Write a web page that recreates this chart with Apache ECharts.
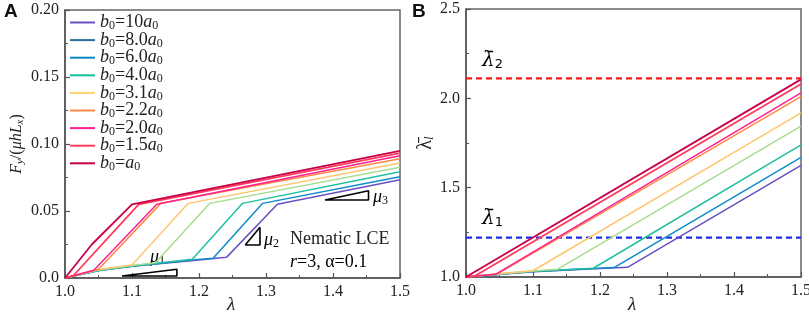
<!DOCTYPE html>
<html><head><meta charset="utf-8">
<script src="https://cdn.jsdelivr.net/npm/echarts@6/dist/echarts.min.js"></script>
<style>html,body{margin:0;padding:0;background:#fff}#c{width:809px;height:314px}</style>
</head><body><div id="c"></div>
<script>
// ---- data ----
const b0Labels = ['10', '8.0', '6.0', '4.0', '3.1', '2.2', '2.0', '1.5', ''];
const plotColors = ['#6a4fc0', '#0d8ccc', '#1fbf9f', '#a9dc8e', '#ffc66d', '#ff8944', '#ff1f8e', '#ff3a5a', '#c8004b'];
const legendColors = ['#6a4fc0', '#2a6e9c', '#0a88c8', '#12c09c', '#ffd070', '#ff8944', '#ff1f8e', '#ff3a5a', '#c8004b'];

// Panel A: F_y/(mu h L_x) vs lambda
const fA_b10 = [[1, 0], [1.05, 0.0055], [1.1, 0.0087], [1.2, 0.0135], [1.241, 0.0154], [1.317, 0.055], [1.5, 0.0733]];
const fA_b8 = [[1, 0], [1.05, 0.0055], [1.1, 0.0088], [1.2, 0.0139], [1.221, 0.0148], [1.295, 0.0557], [1.5, 0.0755]];
const fA_b6 = [[1, 0], [1.05, 0.0056], [1.1, 0.009], [1.19, 0.0140], [1.265, 0.0557], [1.5, 0.0793]];
const fA_b4 = [[1, 0], [1.05, 0.006], [1.1, 0.0093], [1.135, 0.0113], [1.216, 0.0557], [1.5, 0.0826]];
const fA_b31 = [[1, 0], [1.05, 0.0063], [1.1, 0.0097], [1.184, 0.0557], [1.5, 0.0858]];
const fA_b22 = [[1, 0], [1.05, 0.0066], [1.143, 0.0557], [1.5, 0.0890]];
const fA_b20 = [[1, 0], [1.043, 0.0058], [1.137, 0.055], [1.5, 0.0912]];
const fA_b15 = [[1, 0], [1.012, 0.0015], [1.11, 0.055], [1.5, 0.0932]];
const fA_b1 = [[1, 0], [1.04, 0.025], [1.1, 0.055], [1.5, 0.0948]];

// Panel B: lambda_l bar vs lambda
const lB_b10 = [[1, 1], [1.1, 1.03], [1.2, 1.047], [1.241, 1.054], [1.5, 1.625]];
const lB_b8 = [[1, 1], [1.1, 1.031], [1.221, 1.053], [1.5, 1.670]];
const lB_b6 = [[1, 1], [1.1, 1.032], [1.19, 1.049], [1.5, 1.739]];
const lB_b4 = [[1, 1], [1.1, 1.033], [1.137, 1.044], [1.5, 1.845]];
const lB_b31 = [[1, 1], [1.05, 1.02], [1.1, 1.035], [1.5, 1.919]];
const lB_b22 = [[1, 1], [1.047, 1.017], [1.5, 2.009]];
const lB_b20 = [[1, 1], [1.044, 1.015], [1.5, 2.031]];
const lB_b15 = [[1, 1], [1.012, 1.003], [1.5, 2.080]];
const lB_b1 = [[1, 1], [1.5, 2.106]];

const lambdaBar1 = 1.22;
const lambdaBar2 = 2.112;

// slope-triangle annotations (data coords, panel A)
const tri1 = [[1.085, 0.0015], [1.167, 0.0065], [1.167, 0.0015], [1.085, 0.0015]];
const tri2 = [[1.269, 0.0246], [1.291, 0.0378], [1.291, 0.0246], [1.269, 0.0246]];
const tri3 = [[1.388, 0.0582], [1.453, 0.0651], [1.453, 0.0582], [1.388, 0.0582]];

const yTicksA = ['0.0', '0.05', '0.10', '0.15', '0.20'];
const yTicksB = ['1.0', '1.5', '2.0', '2.5'];

const seriesA = [fA_b10, fA_b8, fA_b6, fA_b4, fA_b31, fA_b22, fA_b20, fA_b15, fA_b1];
const seriesB = [lB_b10, lB_b8, lB_b6, lB_b4, lB_b31, lB_b22, lB_b20, lB_b15, lB_b1];

// ---- chart ----
const SERIF = "'Liberation Serif','Times New Roman',serif";
const TXT = '#222';
const chart = echarts.init(document.getElementById('c'), null, {renderer: 'canvas'});

const rich = {
  i: {fontFamily: SERIF, fontStyle: 'italic', fontSize: 18, color: TXT, lineHeight: 18},
  n: {fontFamily: SERIF, fontSize: 18, color: TXT, lineHeight: 18},
  s: {fontFamily: SERIF, fontStyle: 'italic', fontSize: 12, color: TXT, lineHeight: 10, padding: [8, 0, 0, 0]},
  su: {fontFamily: SERIF, fontSize: 12, color: TXT, lineHeight: 10, padding: [8, 0, 0, 0]}
};
const richY = {
  i: {fontFamily: SERIF, fontStyle: 'italic', fontSize: 16, color: TXT, lineHeight: 16},
  n: {fontFamily: SERIF, fontSize: 16, color: TXT, lineHeight: 16},
  s: {fontFamily: SERIF, fontStyle: 'italic', fontSize: 11, color: TXT, lineHeight: 9, padding: [7, 0, 0, 0]}
};
const richB = {
  n: {fontFamily: SERIF, fontSize: 20, color: TXT, lineHeight: 20},
  s: {fontFamily: SERIF, fontStyle: 'italic', fontSize: 13, color: TXT, lineHeight: 12, padding: [8, 0, 0, 0]}
};
const richL = {
  i: {fontFamily: SERIF, fontStyle: 'italic', fontSize: 18, color: TXT, lineHeight: 17},
  n: {fontFamily: SERIF, fontSize: 18, color: TXT, lineHeight: 17},
  su: {fontFamily: SERIF, fontSize: 12, color: TXT, lineHeight: 10, padding: [7, 0, 0, 0]}
};

function legendName(lbl) { return 'b0=' + lbl + 'a0'; }

const axisCommon = {
  axisLine: {show: true, lineStyle: {color: '#555', width: 1.5}},
  axisTick: {show: true, inside: true, length: 5, lineStyle: {color: '#555', width: 1.2}},
  minorTick: {show: true, splitNumber: 2, length: 3, lineStyle: {color: '#555', width: 1}},
  splitLine: {show: false},
  axisLabel: {fontFamily: SERIF, fontSize: 16, color: TXT}
};

const series = [];
seriesA.forEach((d, k) => {
  series.push({
    name: legendName(b0Labels[k]), type: 'line', xAxisIndex: 0, yAxisIndex: 0,
    data: d, symbol: 'none', lineStyle: {color: plotColors[k], width: k >= 7 ? 1.8 : 1.5},
    itemStyle: {color: plotColors[k]}, silent: true, z: 2 + k
  });
});
seriesB.forEach((d, k) => {
  series.push({
    name: 'B' + k, type: 'line', xAxisIndex: 1, yAxisIndex: 1,
    data: d, symbol: 'none', lineStyle: {color: plotColors[k], width: k >= 7 ? 1.8 : 1.5},
    itemStyle: {color: plotColors[k]}, silent: true, z: 2 + k
  });
});
[tri1, tri2, tri3].forEach((d, k) => {
  series.push({name: 'tri' + k, type: 'line', xAxisIndex: 0, yAxisIndex: 0, data: d, symbol: 'none',
    lineStyle: {color: '#000', width: 1.6}, silent: true, z: 20});
});
series.push({
  name: 'ref2', type: 'line', xAxisIndex: 1, yAxisIndex: 1,
  data: [[1, lambdaBar2], [1.5, lambdaBar2]], symbol: 'none',
  lineStyle: {color: '#ff1a1a', width: 2.2, type: [6, 4]}, silent: true, z: 1
});
series.push({
  name: 'ref1', type: 'line', xAxisIndex: 1, yAxisIndex: 1,
  data: [[1, lambdaBar1], [1.5, lambdaBar1]], symbol: 'none',
  lineStyle: {color: '#1f2fe8', width: 2.2, type: [6, 4]}, silent: true, z: 1
});

const option = {
  animation: false,
  backgroundColor: '#fff',
  grid: [
    {left: 65, right: 409, top: 10, bottom: 36, outerBoundsMode: 'none', containLabel: false, show: true, borderColor: '#666', borderWidth: 1.5, backgroundColor: 'transparent'},
    {left: 466, right: 8, top: 9, bottom: 37, outerBoundsMode: 'none', containLabel: false, show: true, borderColor: '#666', borderWidth: 1.5, backgroundColor: 'transparent'}
  ],
  xAxis: [
    Object.assign({}, axisCommon, {gridIndex: 0, type: 'value', min: 1.0, max: 1.5, interval: 0.1,
      axisLabel: Object.assign({}, axisCommon.axisLabel, {margin: 6, formatter: v => v.toFixed(1)})}),
    Object.assign({}, axisCommon, {gridIndex: 1, type: 'value', min: 1.0, max: 1.5, interval: 0.1,
      axisLabel: Object.assign({}, axisCommon.axisLabel, {margin: 6, formatter: v => v.toFixed(1)})})
  ],
  yAxis: [
    Object.assign({}, axisCommon, {gridIndex: 0, type: 'value', min: 0, max: 0.2, interval: 0.05,
      name: '{i|F}{s|y}{n|/(}{i|μhL}{s|x}{n|)}', nameLocation: 'middle', nameGap: 40,
      nameTextStyle: {rich: richY},
      axisLabel: Object.assign({}, axisCommon.axisLabel, {margin: 6, formatter: v => yTicksA[Math.round(v / 0.05)]})}),
    Object.assign({}, axisCommon, {gridIndex: 1, type: 'value', min: 1.0, max: 2.5, interval: 0.5,
      name: '{n|λ̄}{s|l}', nameLocation: 'middle', nameGap: 22,
      nameTextStyle: {rich: richB},
      axisLabel: Object.assign({}, axisCommon.axisLabel, {margin: 6, formatter: v => yTicksB[Math.round((v - 1) / 0.5)]})})
  ],
  legend: {
    show: true, orient: 'vertical', left: 70, top: 13, padding: 0, itemWidth: 25, itemHeight: 2, itemGap: -1.4,
    icon: 'rect',
    data: b0Labels.map((l, k) => ({name: legendName(l), itemStyle: {color: legendColors[k]}})),
    formatter: name => {
      const v = name.slice(3, -2);
      return '{i|b}{su|0}{n|=' + v + '}{i|a}{su|0}';
    },
    textStyle: {rich: richL, padding: [0, 0, 0, 0]},
    selectedMode: false
  },
  graphic: [
    {type: 'text', left: 4, top: 2, style: {text: 'A', font: "bold 19px 'Liberation Sans', Arial, sans-serif", fill: '#111'}},
    {type: 'text', left: 412, top: 2, style: {text: 'B', font: "bold 19px 'Liberation Sans', Arial, sans-serif", fill: '#111'}},
    {type: 'text', left: 227, top: 295, style: {text: 'λ', font: "italic 19px " + SERIF, fill: TXT}},
    {type: 'text', left: 628, top: 295, style: {text: 'λ', font: "italic 19px " + SERIF, fill: TXT}},
    {type: 'text', left: 290, top: 230, style: {text: 'Nematic LCE', font: "18px " + SERIF, fill: TXT}},
    {type: 'text', left: 290, top: 253, style: {text: '{i|r}{n|=3, α=0.1}', rich: rich}},
    {type: 'text', left: 150, top: 247, style: {text: '{i|μ}{su|1}', rich: rich}},
    {type: 'text', left: 264, top: 230, style: {text: '{i|μ}{su|2}', rich: rich}},
    {type: 'text', left: 373, top: 187, style: {text: '{i|μ}{su|3}', rich: rich}},
    {type: 'text', left: 482, top: 50, style: {text: '{a|λ̄}{b|2}', rich: {
      a: {fontFamily: "'DejaVu Serif',serif", fontStyle: 'italic', fontSize: 20, color: '#ff1a1a', lineHeight: 20},
      b: {fontFamily: "'DejaVu Sans',sans-serif", fontSize: 13, color: '#ff1a1a', lineHeight: 12, padding: [8, 0, 0, 0]}}}},
    {type: 'text', left: 482, top: 208, style: {text: '{a|λ̄}{b|1}', rich: {
      a: {fontFamily: "'DejaVu Serif',serif", fontStyle: 'italic', fontSize: 20, color: '#1f2fe8', lineHeight: 20},
      b: {fontFamily: "'DejaVu Sans',sans-serif", fontSize: 13, color: '#1f2fe8', lineHeight: 12, padding: [8, 0, 0, 0]}}}}
  ],
  series: series
};
chart.setOption(option);
</script>
</body></html>
